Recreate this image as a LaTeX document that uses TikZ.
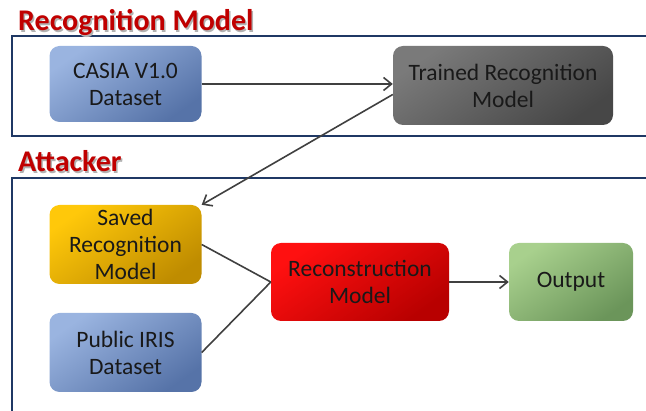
\documentclass[tikz,border=0pt]{standalone}
\usepackage{fontspec}
\setmainfont{Carlito}
\usetikzlibrary{arrows.meta}

\definecolor{frameblue}{HTML}{1F3864}
\definecolor{titlered}{HTML}{C00000}
\definecolor{linegray}{HTML}{404040}
\definecolor{blueA}{HTML}{9AB4E0}
\definecolor{blueB}{HTML}{5673A8}
\definecolor{grayA}{HTML}{7A7A7A}
\definecolor{grayB}{HTML}{474747}
\definecolor{goldA}{HTML}{FFC80A}
\definecolor{goldB}{HTML}{BF8C00}
\definecolor{redA}{HTML}{FF1010}
\definecolor{redB}{HTML}{B80000}
\definecolor{greenA}{HTML}{A8D08D}
\definecolor{greenB}{HTML}{6B955A}

\tikzset{
  box/.style={rounded corners=10pt, inner sep=2pt, align=center,
    text=black!90, font=\fontsize{23.5}{27}\selectfont},
  bluebox/.style={box, top color=blueA, bottom color=blueB, shading angle=35},
  graybox/.style={box, top color=grayA, bottom color=grayB, shading angle=35},
  goldbox/.style={box, top color=goldA, bottom color=goldB, shading angle=35},
  redbox/.style={box, top color=redA, bottom color=redB, shading angle=35},
  greenbox/.style={box, top color=greenA, bottom color=greenB, shading angle=35},
  frame/.style={draw=frameblue, line width=2.2pt},
  title/.style={anchor=base west, inner sep=0pt, text=titlered,
    font=\fontsize{30}{34}\selectfont\bfseries},
  shadowtitle/.style={title, text=black!30},
  link/.style={draw=linegray, line width=1.6pt},
  arrow/.style={link, -{Straight Barb[length=8pt,width=13pt,line width=1.6pt]}},
}

\begin{document}
\begin{tikzpicture}[x=1pt, y=-1pt]
  \useasboundingbox (0,0) rectangle (646,411);
  \clip (0,0) rectangle (646,411);

  % section frames
  \draw[frame] (12,36) rectangle (670,136);
  \draw[frame] (12,178) rectangle (670,440);

  % section titles, each with a soft drop shadow
  \node[shadowtitle] at (19.5,32.5) {Recognition Model};
  \node[title] (ttop) at (18,31) {Recognition Model};
  \node[shadowtitle] at (19.5,173.5) {Attacker};
  \node[title] (tatk) at (18,172) {Attacker};

  % boxes
  \node[bluebox, minimum width=152pt, minimum height=76pt] (casia) at (125.5,84) {CASIA V1.0\\Dataset};
  \node[graybox, minimum width=220pt, minimum height=79pt] (trained) at (503,85.5) {Trained Recognition\\Model};
  \node[goldbox, minimum width=152pt, minimum height=79pt] (saved) at (125.5,244.5) {Saved\\Recognition\\Model};
  \node[bluebox, minimum width=152pt, minimum height=79pt] (public) at (125.5,352.5) {Public IRIS\\Dataset};
  \node[redbox, minimum width=178pt, minimum height=78pt] (recon) at (360,282) {Reconstruction\\Model};
  \node[greenbox, minimum width=124pt, minimum height=78pt] (output) at (571,282) {Output};

  % connectors
  \draw[arrow] (casia.east) -- (casia.east -| trained.west);
  \draw[arrow] ([yshift=-9pt]trained.west) -- (saved.north east);
  \draw[link] (saved.east) -- (recon.west);
  \draw[link] (public.east) -- (recon.west);
  \draw[arrow] (recon.east) -- (output.west);
\end{tikzpicture}
\end{document}
